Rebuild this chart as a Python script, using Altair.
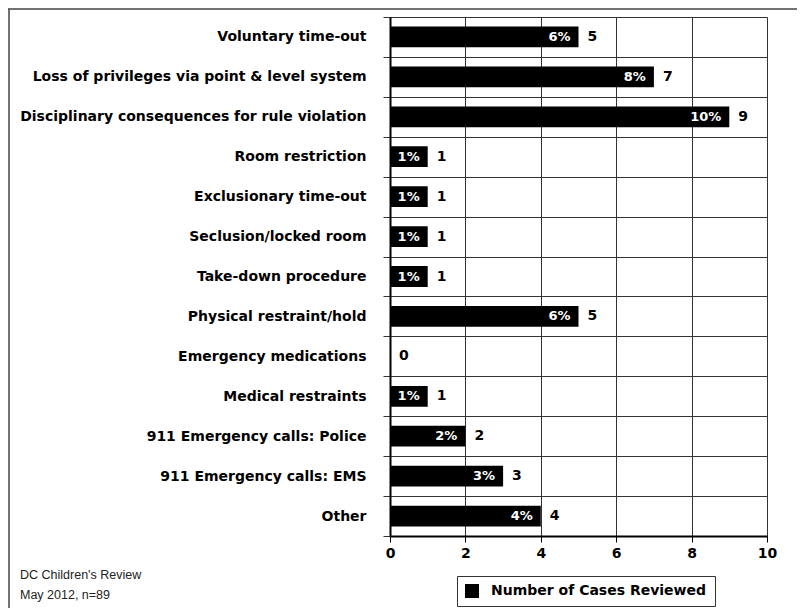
import altair as alt
import pandas as pd

categories = [
    "Voluntary time-out",
    "Loss of privileges via point & level system",
    "Disciplinary consequences for rule violation",
    "Room restriction",
    "Exclusionary time-out",
    "Seclusion/locked room",
    "Take-down procedure",
    "Physical restraint/hold",
    "Emergency medications",
    "Medical restraints",
    "911 Emergency calls: Police",
    "911 Emergency calls: EMS",
    "Other",
]
counts = [5, 7, 9, 1, 1, 1, 1, 5, 0, 1, 2, 3, 4]
pct_labels = ["6%", "8%", "10%", "1%", "1%", "1%", "1%", "6%", "", "1%", "2%", "3%", "4%"]
x_ticks = [0, 2, 4, 6, 8, 10]
series_name = "Number of Cases Reviewed"
footer_lines = ["DC Children's Review", "May 2012, n=89"]

FONT = "DejaVu Sans"
FOOT_FONT = "Liberation Sans"

df = pd.DataFrame({
    "category": categories,
    "count": counts,
    "pct": pct_labels,
    "series": [series_name] * len(categories),
})

y_enc = alt.Y(
    "category:N",
    sort=categories,
    scale=alt.Scale(paddingInner=0, paddingOuter=0),
    axis=alt.Axis(
        title=None,
        tickBand="extent",
        grid=True,
        gridColor="#333333",
        gridWidth=1,
        tickColor="#333333",
        tickSize=7,
        domainColor="black",
        domainWidth=2,
        labelFont=FONT,
        labelFontSize=14,
        labelFontWeight="bold",
        labelColor="black",
        labelPadding=17,
        labelLimit=400,
    ),
)

x_enc = alt.X(
    "count:Q",
    scale=alt.Scale(domain=[0, 10], nice=False),
    axis=alt.Axis(
        title=None,
        values=x_ticks,
        grid=True,
        gridColor="#333333",
        gridWidth=1,
        tickColor="black",
        tickSize=6,
        domainColor="black",
        domainWidth=2,
        labelFont=FONT,
        labelFontSize=14,
        labelFontWeight="bold",
        labelColor="black",
        labelPadding=4,
        labelFlush=False,
    ),
)

bars = alt.Chart(df).mark_bar(height={"band": 0.52}).encode(
    y=y_enc,
    x=x_enc,
    color=alt.Color(
        "series:N",
        scale=alt.Scale(range=["black"]),
        legend=alt.Legend(
            title=None,
            orient="none",
            legendX=67,
            legendY=559,
            direction="horizontal",
            strokeColor="#333333",
            fillColor="white",
            padding=8,
            symbolType="square",
            symbolSize=196,
            symbolStrokeWidth=0,
            symbolOpacity=1,
            labelFont=FONT,
            labelFontSize=14,
            labelFontWeight="bold",
            labelColor="black",
            labelOffset=12,
            labelLimit=400,
        ),
    ),
)

pct_text = alt.Chart(df).mark_text(
    align="right", baseline="middle", dx=-8, color="white",
    font=FONT, fontSize=13, fontWeight="bold",
).encode(
    y=alt.Y("category:N", sort=categories),
    x=alt.X("count:Q"),
    text="pct:N",
)

val_text = alt.Chart(df).mark_text(
    align="left", baseline="middle", dx=9, color="black",
    font=FONT, fontSize=14, fontWeight="bold",
).encode(
    y=alt.Y("category:N", sort=categories),
    x=alt.X("count:Q"),
    text="count:Q",
)

footer_df = pd.DataFrame({"line": footer_lines, "idx": [0, 1]})
footer = alt.Chart(footer_df).mark_text(
    align="left", baseline="middle", color="#222222",
    font=FOOT_FONT, fontSize=12.5,
).encode(
    x=alt.value(-370),
    y=alt.value(558),
    text="line:N",
).transform_filter("datum.idx == 0")
footer2 = alt.Chart(footer_df).mark_text(
    align="left", baseline="middle", color="#222222",
    font=FOOT_FONT, fontSize=12.5,
).encode(
    x=alt.value(-370),
    y=alt.value(578),
    text="line:N",
).transform_filter("datum.idx == 1")

frame_top = alt.Chart(footer_df).mark_rule(color="#444444", strokeWidth=1.5).encode(
    x=alt.value(-382), x2=alt.value(420), y=alt.value(-8)
).transform_filter("datum.idx == 0")
frame_left = alt.Chart(footer_df).mark_rule(color="#444444", strokeWidth=1.5).encode(
    x=alt.value(-381), y=alt.value(-8), y2=alt.value(600)
).transform_filter("datum.idx == 0")

chart = alt.layer(bars, pct_text, val_text, footer, footer2, frame_top, frame_left).properties(
    width=377,
    height=519,
    padding={"left": 382, "top": 9, "right": 30, "bottom": 72},
    autosize=alt.AutoSizeParams(type="none"),
).configure_view(
    stroke="black", strokeWidth=1.5
).configure(background="white")

chart.save("out.html", embed_options={"renderer": "svg", "actions": False})
